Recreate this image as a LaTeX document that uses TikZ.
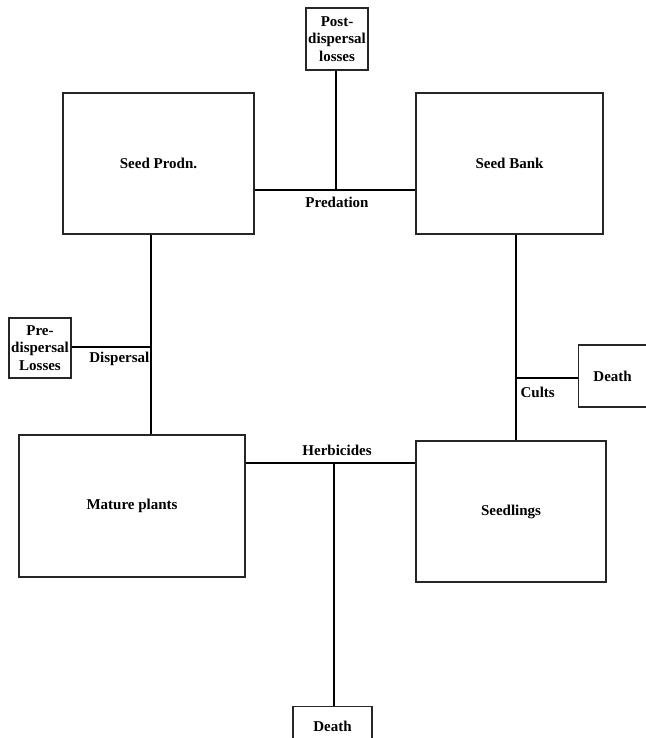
\documentclass[tikz,border=0pt]{standalone}
\usepackage{fontspec}
\setmainfont{Liberation Serif}
\usepackage{tikz}

\begin{document}
\begin{tikzpicture}[x=1pt, y=-1pt, line width=1.2pt,
    bigbox/.style={draw=black!85, rectangle, font=\bfseries\fontsize{15}{17}\selectfont},
    smallbox/.style={draw=black!85, rectangle, align=center, inner sep=2pt,
        font=\bfseries\fontsize{15}{17.5}\selectfont},
    lbl/.style={font=\bfseries\fontsize{15}{17}\selectfont}]

\useasboundingbox (0,0) rectangle (645,738);

% Stages
\node[bigbox, minimum width=191pt, minimum height=141pt] (prodn) at (158.5,163.5) {Seed Prodn.};
\node[bigbox, minimum width=187pt, minimum height=141pt] (bank) at (509.5,163.5) {Seed Bank};
\node[bigbox, minimum width=226pt, minimum height=142pt] (mature) at (132,506) {Mature plants};
\node[bigbox, minimum width=190pt, minimum height=141pt] (seedl) at (511,511.5) {Seedlings};

% Losses
\node[smallbox, minimum width=62pt, minimum height=62pt] (postd) at (337,39) {Post-\\dispersal\\losses};
\node[smallbox, minimum width=62pt, minimum height=60pt] (pred) at (40,348) {Pre-\\dispersal\\Losses};
\node[smallbox, minimum width=68pt, minimum height=62pt, anchor=west] (deathr) at (578,376) {Death};
\node[smallbox, minimum width=79pt, minimum height=40pt, anchor=north] (deathb) at (332.5,706) {Death};

% Junctions
\coordinate (jpre) at (336,190);
\coordinate (jdis) at (151,347);
\coordinate (jcul) at (516,378);
\coordinate (jher) at (334,463);

% Predation
\draw (jpre -| prodn.east) -- (jpre -| bank.west);
\draw (jpre |- postd.south) -- (jpre);
\node[lbl, below] at (337,193) {Predation};

% Dispersal
\draw (jdis |- prodn.south) -- (jdis |- mature.north);
\draw (pred.east |- jdis) -- (jdis);
\node[lbl, below left, inner sep=1pt] at (151,350) {Dispersal};

% Cults
\draw (jcul |- bank.south) -- (jcul |- seedl.north);
\draw (jcul) -- (deathr.west |- jcul);
\node[lbl, below right, inner sep=1pt] at (519,385) {Cults};

% Herbicides
\draw (jher -| mature.east) -- (jher -| seedl.west);
\draw (jher) -- (jher |- deathb.north);
\node[lbl, above] at (337,460) {Herbicides};

\end{tikzpicture}
\end{document}
